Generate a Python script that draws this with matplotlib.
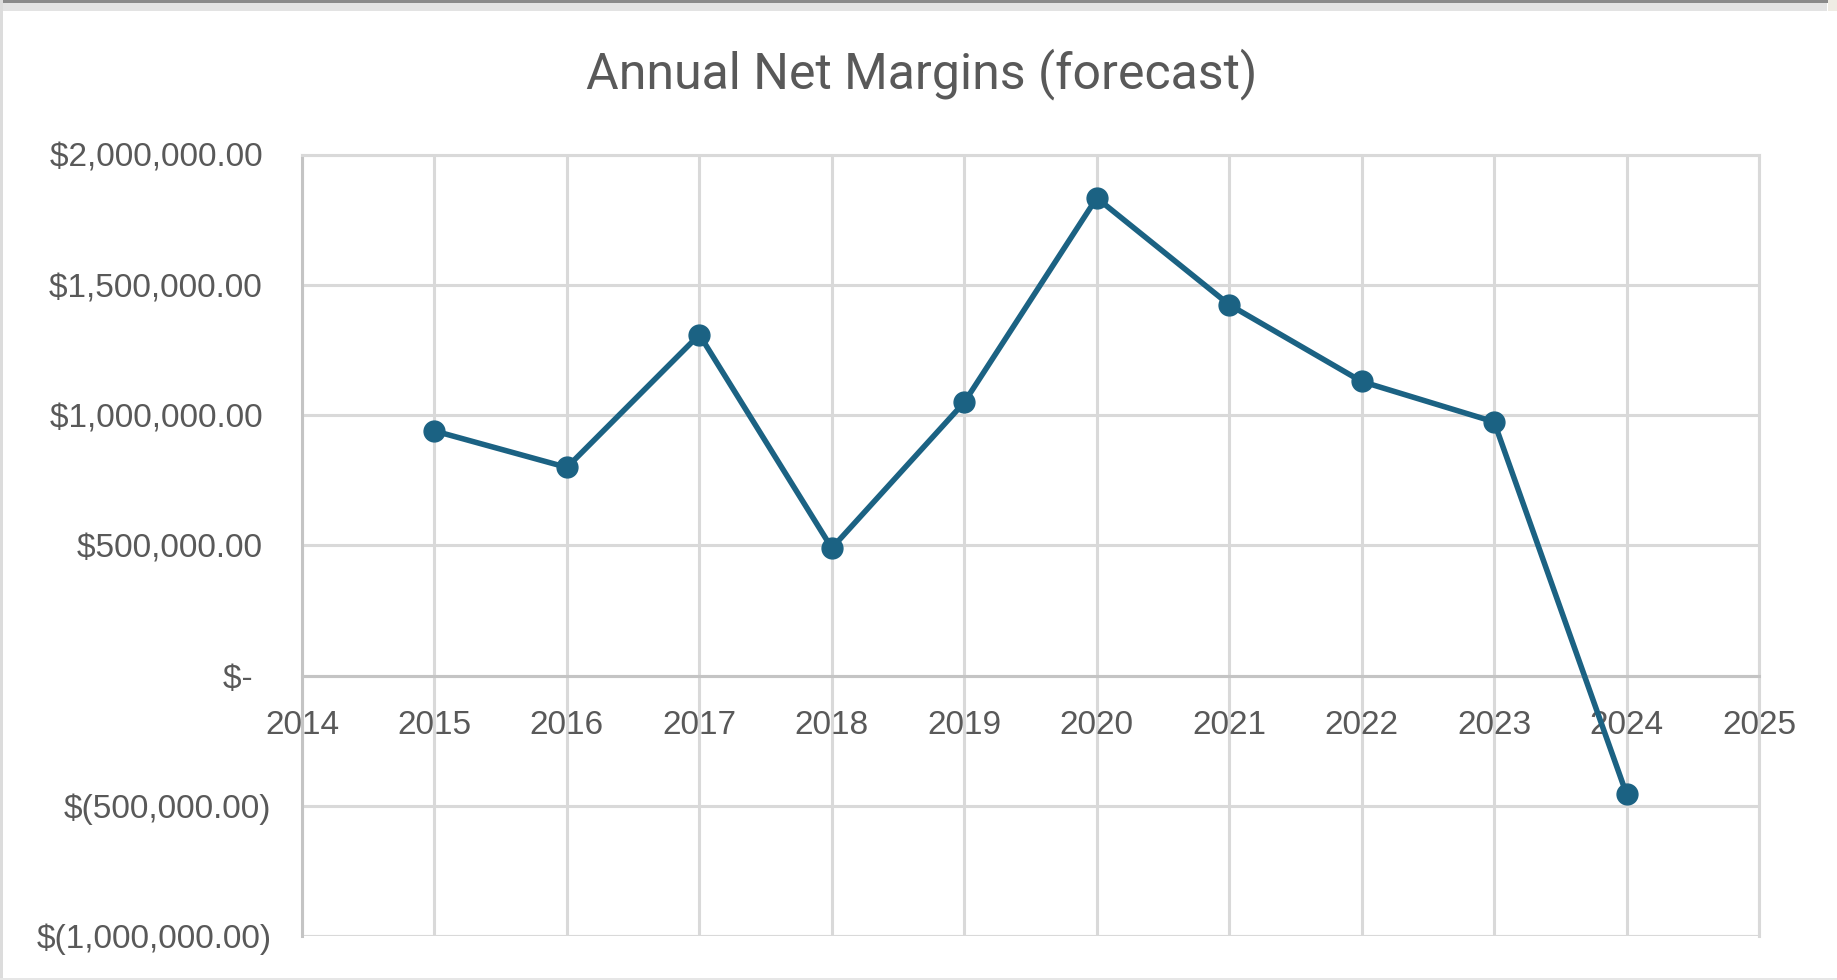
import matplotlib
matplotlib.use("Agg")
import matplotlib.pyplot as plt
from matplotlib.patches import Rectangle

# ---- data ----
years = [2015, 2016, 2017, 2018, 2019, 2020, 2021, 2022, 2023, 2024]
net_margin = [940000, 800000, 1310000, 490000, 1050000, 1835000, 1425000, 1130000, 975000, -455000]
x_ticks = [2014, 2015, 2016, 2017, 2018, 2019, 2020, 2021, 2022, 2023, 2024, 2025]
y_ticks = [-1000000, -500000, 0, 500000, 1000000, 1500000, 2000000]
y_tick_labels = ["$(1,000,000.00)", "$(500,000.00)", "$-  ", "$500,000.00 ",
                 "$1,000,000.00 ", "$1,500,000.00 ", "$2,000,000.00 "]
title = "Annual Net Margins (forecast)"

W, H = 1837, 980
fig = plt.figure(figsize=(W / 100, H / 100), dpi=100)
fig.patch.set_facecolor("white")

# frame decoration
fig.add_artist(Rectangle((0, 1 - 3 / H), 1, 3 / H, transform=fig.transFigure,
                         facecolor="#8a8a8a", edgecolor="none"))
fig.add_artist(Rectangle((0, 1 - 11 / H), 1827 / W, 8 / H, transform=fig.transFigure,
                         facecolor="#e3e3e3", edgecolor="none"))
fig.add_artist(Rectangle((0, 0), 3 / W, 1, transform=fig.transFigure,
                         facecolor="#dcdcdc", edgecolor="none"))
fig.add_artist(Rectangle((0, 0), 1, 2 / H, transform=fig.transFigure,
                         facecolor="#e6e6e6", edgecolor="none"))
fig.add_artist(Rectangle((1828 / W, 1 - 11 / H), 9 / W, 11 / H, transform=fig.transFigure,
                         facecolor="#efece4", edgecolor="none"))

left, right, top, bottom = 302, 1759, 155, 936
ax = fig.add_axes([left / W, 1 - bottom / H, (right - left) / W, (bottom - top) / H])

grid_c = "#d9d9d9"
axis_c = "#c4c4c4"
text_c = "#595959"
tick_font = "Liberation Sans"

ax.set_xlim(2014, 2025)
ax.set_ylim(-1000000, 2000000)
ax.set_xticks(x_ticks)
ax.set_xticklabels([str(t) for t in x_ticks])
ax.set_yticks(y_ticks)
ax.set_yticklabels(y_tick_labels)

ax.grid(True, color=grid_c, linewidth=2.2, zorder=0)
ax.set_axisbelow(True)

for s in ["top", "right"]:
    ax.spines[s].set_visible(True)
    ax.spines[s].set_color(grid_c)
    ax.spines[s].set_linewidth(2.2)
ax.spines["left"].set_color(axis_c)
ax.spines["left"].set_linewidth(2.2)
ax.spines["bottom"].set_position(("data", 0))
ax.spines["bottom"].set_color(axis_c)
ax.spines["bottom"].set_linewidth(2.2)
# bottom gridline at -1M
ax.axhline(-1000000, color=grid_c, linewidth=2.2, zorder=0)

ax.tick_params(axis="both", length=0, colors=text_c, labelsize=24)
ax.tick_params(axis="x", pad=25)
ax.tick_params(axis="y", pad=22)
for lab in ax.get_xticklabels() + ax.get_yticklabels():
    lab.set_fontfamily(tick_font)
    lab.set_color(text_c)

ax.plot(years, net_margin, color="#1b6283", linewidth=4.0, marker="o",
        markersize=15, markerfacecolor="#1b6283", markeredgecolor="#1b6283",
        zorder=5, clip_on=False, solid_joinstyle="round")

fig.text(0.5015, 1 - 74 / H, title, ha="center", va="center", fontsize=36,
         color=text_c, fontfamily="Roboto")

fig.savefig("out.png", dpi=100, facecolor=fig.get_facecolor())
